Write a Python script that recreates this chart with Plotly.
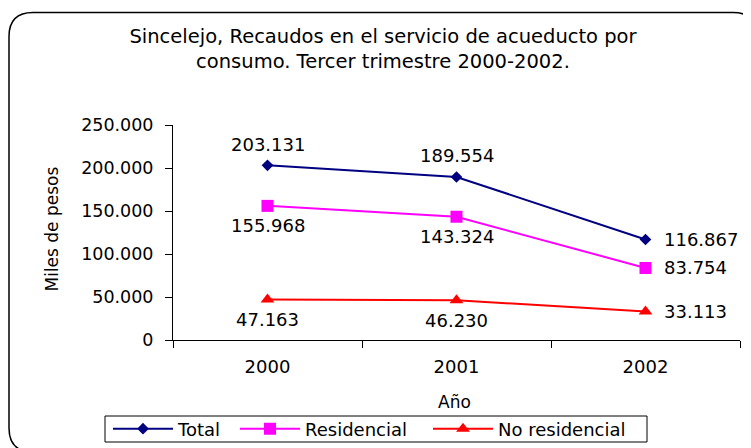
import plotly.graph_objects as go

years = ["2000", "2001", "2002"]
total = [203131, 189554, 116867]
residencial = [155968, 143324, 83754]
no_residencial = [47163, 46230, 33113]
series_names = ["Total", "Residencial", "No residencial"]

FONT = "DejaVu Sans"
OFF = 8  # page body margin
W, H = 751 - OFF, 448 - OFF
# plot area in screen pixels
SL, SR, ST, SB = 173, 740, 125, 340
L, R, T, B = SL - OFF, SR - OFF, ST - OFF, SB - OFF


def px(x):  # screen x -> paper
    return (x - OFF - L) / (R - L)


def py(y):  # screen y -> paper
    return (B - (y - OFF)) / (B - T)


def cx_(x):  # screen x -> container
    return (x - OFF) / W


def cy_(y):  # screen y -> container
    return 1 - (y - OFF) / H


def fmt(v):
    return f"{v:,}".replace(",", ".")


fig = go.Figure()
styles = [
    dict(color="#000080", symbol="diamond", size=9),
    dict(color="#FF00FF", symbol="square", size=12),
    dict(color="#FF0000", symbol="triangle-up", size=12),
]
legend_ids = ["legend", "legend2", "legend3"]
for name, vals, st, lg in zip(series_names, [total, residencial, no_residencial], styles, legend_ids):
    fig.add_trace(go.Scatter(
        x=years, y=vals, name=name, mode="lines+markers",
        line=dict(color=st["color"], width=2),
        marker=dict(symbol=st["symbol"], size=st["size"], color=st["color"]),
        hoverinfo="skip", legend=lg,
    ))

# data labels
annots = []
label_pos = {
    "Total": ["above", "above", "right"],
    "Residencial": ["below", "below", "right"],
    "No residencial": ["below", "below", "right"],
}
for name, vals in zip(series_names, [total, residencial, no_residencial]):
    for i, (v, pos) in enumerate(zip(vals, label_pos[name])):
        a = dict(x=i, y=v, xref="x", yref="y", text=fmt(v), showarrow=False,
                 font=dict(family=FONT, size=18, color="black"))
        if pos == "above":
            a.update(yshift=21, xanchor="center", yanchor="middle")
        elif pos == "below":
            a.update(yshift=-20, xanchor="center", yanchor="middle")
        else:
            a.update(xshift=16, xanchor="left", yanchor="middle")
        annots.append(a)

annots.append(dict(x=px(454), y=py(402), xref="paper", yref="paper", text="Año",
                   showarrow=False, xanchor="center", yanchor="middle",
                   font=dict(family=FONT, size=17, color="black")))
annots.append(dict(x=px(51), y=py(294), xref="paper", yref="paper", text="Miles de pesos",
                   textangle=-90, showarrow=False, xanchor="center", yanchor="bottom",
                   font=dict(family=FONT, size=17, color="black")))

# rounded chart border
lx, rx_, ty, by = px(9), px(757), py(12.5), py(452)
ccx, ccy = 24 / (R - L), 24 / (B - T)
path = (f"M {lx+ccx},{ty} L {rx_-ccx},{ty} Q {rx_},{ty} {rx_},{ty-ccy} "
        f"L {rx_},{by+ccy} Q {rx_},{by} {rx_-ccx},{by} L {lx+ccx},{by} "
        f"Q {lx},{by} {lx},{by+ccy} L {lx},{ty-ccy} Q {lx},{ty} {lx+ccx},{ty} Z")

shapes = [
    dict(type="path", path=path, xref="paper", yref="paper",
         line=dict(color="black", width=1.5)),
    dict(type="rect", x0=px(105), x1=px(647), y0=py(416), y1=py(442),
         xref="paper", yref="paper", line=dict(color="black", width=1)),
]

legend_common = dict(orientation="h", xref="container", yref="container",
                     xanchor="left", yanchor="middle", borderwidth=0,
                     bgcolor="rgba(0,0,0,0)", font=dict(family=FONT, size=18),
                     itemwidth=60)
legend_text_x = [178, 305, 498]

fig.update_layout(
    width=W, height=H,
    margin=dict(l=L, r=W - R, t=T, b=H - B, pad=0, autoexpand=False),
    paper_bgcolor="white", plot_bgcolor="white",
    separators=",.",
    font=dict(family=FONT, color="black"),
    title=dict(text="Sincelejo, Recaudos en el servicio de acueducto por<br>consumo. Tercer trimestre 2000-2002.",
               x=cx_(383), xanchor="center", xref="container",
               y=cy_(42.5), yanchor="middle", yref="container",
               font=dict(family=FONT, size=19.5, color="black")),
    xaxis=dict(type="category", categoryorder="array", categoryarray=years,
               range=[-0.5, 2.5], showgrid=False, zeroline=False, automargin=False,
               showline=True, linecolor="black", linewidth=1,
               ticks="outside", tickson="boundaries", ticklen=7, tickcolor="black",
               tickfont=dict(family=FONT, size=18), ticklabelstandoff=10),
    yaxis=dict(range=[0, 250000], dtick=50000, tickformat=",d",
               showgrid=False, zeroline=False, automargin=False,
               showline=True, linecolor="black", linewidth=1,
               ticks="outside", ticklen=7, tickcolor="black",
               tickfont=dict(family=FONT, size=17.5), ticklabelstandoff=8),
    legend=dict(legend_common, x=cx_(legend_text_x[0] - 70), y=cy_(429)),
    legend2=dict(legend_common, x=cx_(legend_text_x[1] - 70), y=cy_(429)),
    legend3=dict(legend_common, x=cx_(legend_text_x[2] - 70), y=cy_(429)),
    annotations=annots,
    shapes=shapes,
    showlegend=True,
)

fig.write_html("out.html")
